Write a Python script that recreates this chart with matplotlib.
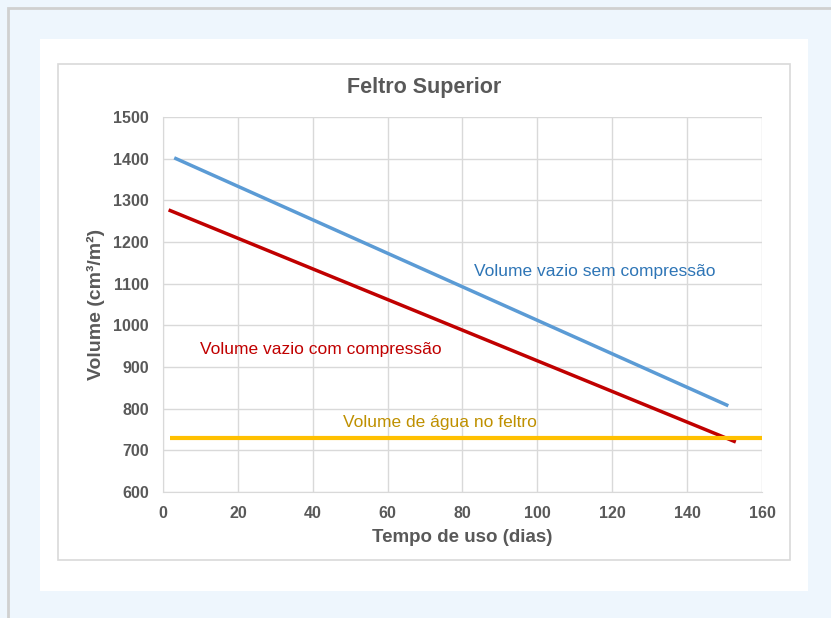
import matplotlib.pyplot as plt
from matplotlib.patches import Rectangle

# dados
dias_sem = [3, 151]
vol_sem = [1402, 807]
dias_com = [1.5, 153]
vol_com = [1277, 720]
dias_agua = [2, 160]
vol_agua = [730, 730]

xticks = list(range(0, 161, 20))
yticks = list(range(600, 1501, 100))

plt.rcParams['font.family'] = ['Liberation Sans', 'DejaVu Sans']
W, H = 831, 618
fig = plt.figure(figsize=(W / 100, H / 100), dpi=100)
fig.patch.set_facecolor('#eef6fd')

# moldura cinza, painel branco e borda do gráfico
fig.add_artist(Rectangle((8 / W, -0.1), 1.2, 1 - 8 / H + 0.1, transform=fig.transFigure,
                         facecolor='none', edgecolor='#d0d0d0', lw=2, zorder=-10))
fig.add_artist(Rectangle((40 / W, 1 - 591 / H), 768 / W, 552 / H, transform=fig.transFigure,
                         facecolor='white', edgecolor='none', zorder=-9))
fig.add_artist(Rectangle((58 / W, 1 - 560 / H), 732 / W, 496 / H, transform=fig.transFigure,
                         facecolor='white', edgecolor='#d9d9d9', lw=1.2, zorder=-8))

ax = fig.add_axes([163 / W, 1 - 492 / H, 599 / W, 375 / H])
ax.set_facecolor('none')

ax.plot(dias_sem, vol_sem, color='#5b9bd5', lw=2.5, solid_capstyle='butt')
ax.plot(dias_com, vol_com, color='#c00000', lw=2.5, solid_capstyle='butt')
ax.plot(dias_agua, vol_agua, color='#ffc000', lw=3, solid_capstyle='butt')

ax.set_xlim(0, 160)
ax.set_ylim(600, 1500)
ax.set_xticks(xticks)
ax.set_yticks(yticks)
ax.grid(True, color='#d9d9d9', lw=1)
ax.set_axisbelow(True)
ax.tick_params(length=0, labelsize=11.5, labelcolor='#595959', pad=10)
for lab in ax.get_xticklabels() + ax.get_yticklabels():
    lab.set_fontweight('bold')
for s in ['top', 'right']:
    ax.spines[s].set_visible(False)
for s in ['left', 'bottom']:
    ax.spines[s].set_color('#d9d9d9')

fig.text(424 / W, 1 - 88 / H, 'Feltro Superior', fontsize=15.5, fontweight='bold',
         color='#595959', ha='center', va='center')
ax.set_xlabel('Tempo de uso (dias)', fontsize=13.5, fontweight='bold', color='#595959', labelpad=6)
ax.set_ylabel('Volume (cm³/m²)', fontsize=14, fontweight='bold', color='#595959', labelpad=6)

ax.text(83, 1130, 'Volume vazio sem compressão', color='#2e75b6', fontsize=12.5, va='center')
ax.text(10, 941, 'Volume vazio com compressão', color='#c00000', fontsize=12.5, va='center')
ax.text(48, 766, 'Volume de água no feltro', color='#bf9000', fontsize=12.5, va='center')

fig.savefig('out.png', dpi=100, facecolor=fig.get_facecolor())
